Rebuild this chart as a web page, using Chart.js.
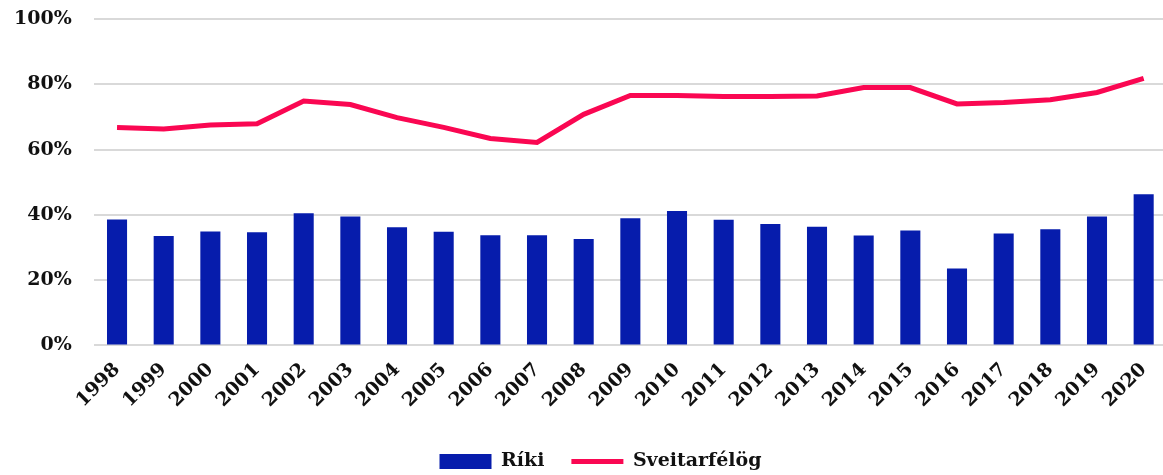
<!DOCTYPE html>
<html>
<head>
<meta charset="utf-8">
<script src="https://cdn.jsdelivr.net/npm/chart.js@4.4.0/dist/chart.umd.min.js"></script>
<style>
  html, body { margin: 0; padding: 0; background: #fff; overflow: hidden; }
  #wrap { width: 1167px; height: 483px; }
</style>
</head>
<body>
<div id="wrap"><canvas id="chart"></canvas></div>
<script>
// data
const years = ["1998","1999","2000","2001","2002","2003","2004","2005","2006","2007","2008",
  "2009","2010","2011","2012","2013","2014","2015","2016","2017","2018","2019","2020"];
const riki = [38.6, 33.5, 34.9, 34.7, 40.5, 39.5, 36.2, 34.8, 33.8, 33.8, 32.6,
  39.0, 41.2, 38.5, 37.2, 36.4, 33.7, 35.2, 23.6, 34.3, 35.6, 39.5, 46.3];
const sveitarfelog = [66.8, 66.3, 67.5, 67.9, 74.9, 73.8, 69.8, 66.8, 63.4, 62.2, 70.8,
  76.6, 76.6, 76.3, 76.3, 76.4, 79.0, 79.0, 74.0, 74.4, 75.3, 77.5, 81.8];
const yTicks = [0, 20, 40, 60, 80, 100];

const font = { family: "'DejaVu Serif', serif", weight: "bold", size: 19 };

// nudge the legend a bit to the right, like the original
const legendShift = {
  id: "legendShift",
  afterLayout(chart) { chart.legend.left += 34; }
};

const ctx = document.getElementById("chart");
new Chart(ctx, {
  data: {
    labels: years,
    datasets: [
      {
        type: "line",
        label: "Sveitarfélög",
        data: sveitarfelog,
        borderColor: "#fa0752",
        backgroundColor: "#fa0752",
        borderWidth: 5,
        pointRadius: 0,
        tension: 0,
        pointStyle: "line",
        order: 0
      },
      {
        type: "bar",
        label: "Ríki",
        data: riki,
        backgroundColor: "#061cac",
        barPercentage: 0.43,
        categoryPercentage: 1,
        pointStyle: "rect",
        order: 1
      }
    ]
  },
  plugins: [legendShift],
  options: {
    responsive: true,
    maintainAspectRatio: false,
    animation: false,
    layout: { padding: { top: 19, left: 0, right: 0, bottom: 2 } },
    plugins: {
      tooltip: { enabled: false },
      legend: {
        position: "bottom",
        reverse: true,
        labels: {
          usePointStyle: true,
          pointStyleWidth: 52,
          boxHeight: 15,
          padding: 27,
          color: "#111",
          font: font
        }
      }
    },
    scales: {
      x: {
        grid: { display: false },
        border: { display: false },
        ticks: {
          color: "#111",
          font: font,
          maxRotation: 45,
          minRotation: 45,
          padding: 5
        },
        afterFit: (s) => { s.paddingLeft = 0; s.paddingRight = 0; s.height += 8; }
      },
      y: {
        min: 0,
        max: 100,
        afterBuildTicks: (axis) => { axis.ticks = yTicks.map(v => ({ value: v })); },
        afterFit: (s) => { s.width = 93.7; s.paddingTop = 0; s.paddingBottom = 0; },
        grid: { color: "#d9d9d9", lineWidth: 2, drawTicks: false },
        border: { display: false },
        ticks: {
          color: "#111",
          font: font,
          padding: 22,
          callback: (v) => v + "%"
        }
      }
    }
  }
});
</script>
</body>
</html>
